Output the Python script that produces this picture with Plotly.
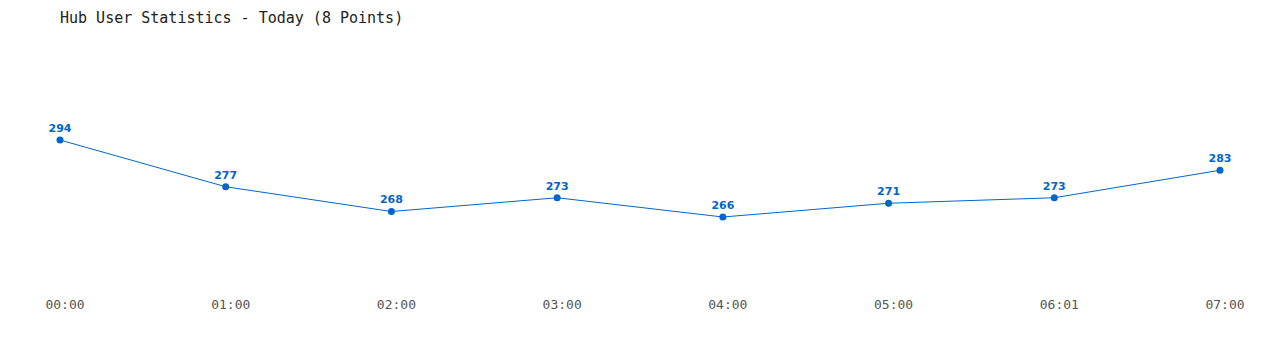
import plotly.graph_objects as go

labels = ["00:00", "01:00", "02:00", "03:00", "04:00", "05:00", "06:01", "07:00"]
users = [294, 277, 268, 273, 266, 271, 273, 283]
title_text = "Hub User Statistics - Today (8 Points)"

idx = list(range(len(labels)))

fig = go.Figure()
fig.add_trace(go.Scatter(
    x=idx, y=users,
    mode="lines+markers+text",
    line=dict(color="#0066CC", width=1),
    marker=dict(color="#0066CC", size=7),
    text=[str(v) for v in users],
    textposition="top center",
    textfont=dict(family="DejaVu Sans", size=11, color="#0066CC", weight="bold"),
    hoverinfo="skip",
    cliponaxis=False,
))

fig.update_layout(
    width=1280, height=350,
    margin=dict(l=60, r=60, t=40, b=58),
    paper_bgcolor="white", plot_bgcolor="white",
    showlegend=False,
    title=dict(text=title_text, x=60/1280, xanchor="left", y=1 - 18/350, yanchor="middle",
               font=dict(family="DejaVu Sans Mono", size=15, color="#222222")),
    xaxis=dict(range=[0, 7], tickvals=idx, ticktext=labels, showgrid=False, zeroline=False,
               showline=False, ticks="", ticklabelshift=5, ticklabelstandoff=3,
               tickfont=dict(family="DejaVu Sans Mono", size=13, color="#555555")),
    yaxis=dict(range=[238.73, 330.36], visible=False, showgrid=False, zeroline=False),
)

fig.write_html("out.html")
